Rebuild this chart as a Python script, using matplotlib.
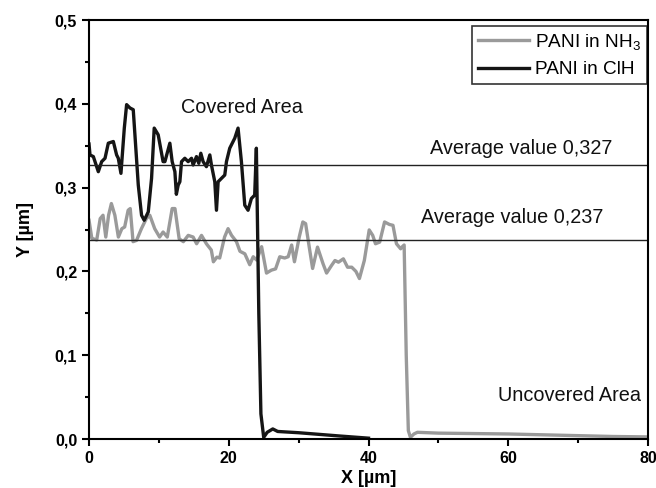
import matplotlib
matplotlib.use("Agg")
import matplotlib.pyplot as plt
from matplotlib.ticker import MultipleLocator, FuncFormatter

plt.rcParams['font.family'] = ['Liberation Sans', 'DejaVu Sans']
plt.rcParams['mathtext.fontset'] = 'custom'
plt.rcParams['mathtext.rm'] = 'Liberation Sans'
plt.rcParams['mathtext.it'] = 'Liberation Sans'

# PANI in ClH (black)
x_clh = [0.0, 0.14, 0.62, 1.33, 1.81, 2.29, 2.76, 3.48, 3.95, 4.19, 4.57, 5.05, 5.38,
         5.86, 6.33, 6.57, 7.05, 7.52, 7.9, 8.48, 8.95, 9.33, 9.9, 10.6, 10.86, 11.57,
         11.9, 12.29, 12.5, 12.76, 13.0, 13.24, 13.71, 14.19, 14.67, 14.9, 15.38, 15.71,
         16.0, 16.33, 16.8, 17.29, 17.52, 18.0, 18.24, 18.48, 18.95, 19.43, 19.67, 20.14,
         20.62, 20.86, 21.33, 21.81, 22.29, 22.76, 23.24, 23.71, 23.95, 24.3, 24.6, 25.0,
         25.5, 26.3, 27.0, 28.0, 30.0, 33.0, 36.0, 40.0]
y_clh = [0.352, 0.339, 0.337, 0.319, 0.331, 0.335, 0.353, 0.355, 0.339, 0.335, 0.317, 0.371,
         0.399, 0.395, 0.393, 0.363, 0.303, 0.267, 0.261, 0.271, 0.311, 0.371, 0.363, 0.331,
         0.331, 0.353, 0.331, 0.319, 0.292, 0.303, 0.307, 0.331, 0.335, 0.331, 0.335, 0.327,
         0.337, 0.329, 0.341, 0.331, 0.325, 0.339, 0.327, 0.307, 0.273, 0.307, 0.311, 0.315,
         0.331, 0.347, 0.355, 0.359, 0.371, 0.331, 0.279, 0.273, 0.287, 0.291, 0.347, 0.15,
         0.03, 0.002, 0.008, 0.012, 0.009, 0.0085, 0.0075, 0.0055, 0.0035, 0.001]

# PANI in NH3 (grey)
x_nh3 = [0.0, 0.4, 1.1, 1.6, 2.0, 2.4, 2.8, 3.2, 3.7, 4.2, 4.7, 5.1, 5.6, 5.9, 6.3, 6.8,
         7.5, 8.2, 8.7, 9.4, 10.1, 10.6, 11.2, 11.9, 12.3, 12.9, 13.5, 14.2, 14.9, 15.4,
         16.1, 16.8, 17.5, 17.8, 18.3, 18.7, 19.4, 19.9, 20.4, 21.1, 21.6, 22.3, 23.0,
         23.5, 24.0, 24.7, 25.4, 26.1, 26.7, 27.3, 28.0, 28.5, 29.0, 29.4, 30.1, 30.6,
         31.0, 31.5, 32.0, 32.7, 33.5, 34.0, 34.7, 35.2, 35.7, 36.4, 37.0, 37.6, 38.2,
         38.7, 39.4, 40.1, 40.6, 41.0, 41.6, 42.3, 43.0, 43.5, 44.0, 44.6, 44.9, 45.1,
         45.4, 45.7, 46.0, 46.5, 47.0, 50.0, 55.0, 60.0, 65.0, 70.0, 75.0, 80.0]
y_nh3 = [0.261, 0.2395, 0.2375, 0.263, 0.267, 0.241, 0.267, 0.281, 0.267, 0.241, 0.251,
         0.253, 0.273, 0.275, 0.2355, 0.237, 0.251, 0.263, 0.267, 0.251, 0.241, 0.247,
         0.241, 0.275, 0.275, 0.239, 0.2355, 0.243, 0.241, 0.233, 0.243, 0.233, 0.2255,
         0.2115, 0.217, 0.216, 0.241, 0.251, 0.243, 0.2355, 0.224, 0.221, 0.208, 0.2175,
         0.2135, 0.2295, 0.198, 0.2015, 0.203, 0.2175, 0.216, 0.2175, 0.2315, 0.2115,
         0.2415, 0.259, 0.257, 0.23, 0.2035, 0.229, 0.209, 0.198, 0.207, 0.213, 0.211,
         0.215, 0.205, 0.205, 0.2, 0.1915, 0.213, 0.2495, 0.243, 0.233, 0.235, 0.259,
         0.256, 0.255, 0.233, 0.227, 0.23, 0.2315, 0.1, 0.01, 0.002, 0.006, 0.008, 0.007,
         0.0065, 0.006, 0.005, 0.004, 0.003, 0.0025]

avg_clh = 0.327
avg_nh3 = 0.237

fig = plt.figure(figsize=(6.56, 4.88), dpi=100)
ax = fig.add_axes([0.1357, 0.1004, 0.8521, 0.8586])

ax.plot(x_nh3, y_nh3, color='#9a9a9a', lw=2.4, label='PANI in NH$_3$')
ax.plot(x_clh, y_clh, color='#151515', lw=2.4, label='PANI in ClH')
ax.axhline(avg_clh, color='#222222', lw=1.0)
ax.axhline(avg_nh3, color='#222222', lw=1.0)

txt = dict(ha='center', va='center', fontsize=14.3, color='#111111')
ax.text(21.9, 0.396, 'Covered Area', **txt)
ax.text(61.8, 0.347, 'Average value 0,327', **txt)
ax.text(60.5, 0.264, 'Average value 0,237', **txt)
ax.text(68.7, 0.0525, 'Uncovered Area', **txt)

ax.set_xlim(0, 80)
ax.set_ylim(0, 0.5)
ax.xaxis.set_major_locator(MultipleLocator(20))
ax.xaxis.set_minor_locator(MultipleLocator(10))
ax.yaxis.set_major_locator(MultipleLocator(0.1))
ax.yaxis.set_minor_locator(MultipleLocator(0.05))
ax.xaxis.set_major_formatter(FuncFormatter(lambda v, p: '%d' % v))
ax.yaxis.set_major_formatter(FuncFormatter(lambda v, p: ('%.1f' % v).replace('.', ',')))
ax.tick_params(which='both', direction='out', top=False, right=False, width=1.5,
               labelsize=11.5)
ax.tick_params(which='major', length=5)
ax.tick_params(which='minor', length=3)
for lab in ax.get_xticklabels() + ax.get_yticklabels():
    lab.set_fontweight('bold')
for s in ax.spines.values():
    s.set_linewidth(1.5)

ax.set_xlabel('X [µm]', fontsize=13, fontweight='bold', labelpad=3)
ax.set_ylabel('Y [µm]', fontsize=13, fontweight='bold', labelpad=15)

leg = ax.legend(loc='upper right', bbox_to_anchor=(0.998, 0.986), borderaxespad=0,
                prop={'size': 13.7}, frameon=True, fancybox=False, handlelength=2.7,
                borderpad=0.3, labelspacing=0.5, handletextpad=0.3)
leg.get_frame().set_edgecolor('black')
leg.get_frame().set_linewidth(1.2)

fig.savefig('out.png', dpi=100)
